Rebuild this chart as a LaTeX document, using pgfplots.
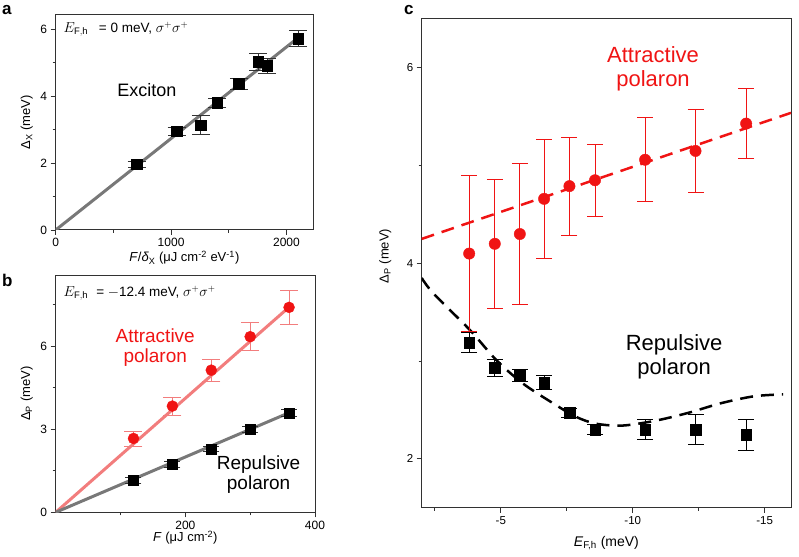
\documentclass[border=0pt]{standalone}
\usepackage{pgfplots}
\pgfplotsset{compat=1.18}
\usepackage{fontspec}
\setmainfont{Liberation Sans}
\definecolor{myred}{RGB}{240,20,20}
\definecolor{mypink}{RGB}{242,125,125}
\definecolor{mygray}{RGB}{120,120,120}
\definecolor{frame}{RGB}{50,50,50}
\pgfplotsset{
  panel/.style={
    scale only axis, anchor=south west,
    axis line style={frame, line width=1pt},
    tick pos=left, tick align=outside,
    major tick length=5pt, minor tick length=3pt,
    every tick/.style={frame, line width=0.8pt},
    /pgf/number format/assume math mode=true,
    /pgf/number format/1000 sep={},
  },
}
\newcommand{\fs}[1]{\fontsize{#1}{#1}\selectfont}
\begin{document}
\begin{tikzpicture}
\path[use as bounding box] (0,0) rectangle (799pt,556pt);
% ---------------- panel a
\begin{axis}[panel, at={(55.7pt,326pt)}, width=257.3pt, height=215pt,
  xmin=0, xmax=2230, ymin=0, ymax=6.42,
  xtick={0,1000,2000}, minor xtick={500,1500},
  ytick={0,2,4,6}, minor ytick={1,3,5},
  tick label style={font=\fs{12}},
  xlabel={\textit{F}/\textit{δ}\textsubscript{X} (μJ cm\textsuperscript{-2} eV\textsuperscript{-1})},
  ylabel={Δ\textsubscript{X} (meV)},
  xlabel style={font=\fs{13}, at={(axis description cs:0.5,-0.13)}, anchor=center},
  ylabel style={font=\fs{13}, at={(axis description cs:-0.112,0.5)}, anchor=center},
]
\addplot[mygray, line width=3pt] coordinates {(0,0) (2130,5.82)};
\addplot[only marks, mark=square*, mark size=5.3pt, black,
  error bars/.cd, y dir=both, y explicit,
  error bar style={black!80, line width=0.8pt},
  error mark options={rotate=90, mark size=9pt, line width=0.8pt, black!80}]
  table[x=x, y=y, y error=e] {
x y e
701 1.96 0.10
1047 2.95 0.12
1258 3.13 0.29
1399 3.80 0.13
1587 4.36 0.17
1754 5.02 0.24
1832 4.90 0.22
2100 5.72 0.24
};
\node[anchor=west, font=\fs{13.5}, inner sep=0pt] at (rel axis cs:0.03,0.935) {$E_{\mathrm{F,h}}$\hspace{0.8em}= 0 meV, $\sigma^{+}\sigma^{+}$};
\node[font=\fs{18}] at (axis cs:790,4.18) {Exciton};
\end{axis}
% ---------------- panel b
\begin{axis}[panel, at={(55.7pt,43.7pt)}, width=259.3pt, height=237.3pt,
  xmin=0, xmax=400, ymin=0, ymax=8.58,
  xtick={200,400}, minor xtick={100,300},
  ytick={0,3,6}, minor ytick={1.5,4.5,7.5},
  tick label style={font=\fs{12}},
  xlabel={\textit{F} (μJ cm\textsuperscript{-2})},
  ylabel={Δ\textsubscript{P} (meV)},
  xlabel style={font=\fs{13}, at={(axis description cs:0.5,-0.108)}, anchor=center},
  ylabel style={font=\fs{13}, at={(axis description cs:-0.112,0.5)}, anchor=center},
]
\addplot[mypink, line width=3pt] coordinates {(0,0) (362,7.46)};
\addplot[mygray, line width=3pt] coordinates {(0,0) (362,3.62)};
\addplot[only marks, mark=*, mark size=5.5pt, myred,
  error bars/.cd, y dir=both, y explicit,
  error bar style={mypink, line width=0.8pt},
  error mark options={rotate=90, mark size=9pt, line width=0.8pt, mypink}]
  table[x=x, y=y, y error=e] {
x y e
120 2.67 0.27
180 3.84 0.32
240 5.14 0.40
300 6.35 0.50
360 7.41 0.63
};
\addplot[only marks, mark=square*, mark size=5pt, black,
  error bars/.cd, y dir=both, y explicit,
  error bar style={black!80, line width=0.8pt},
  error mark options={rotate=90, mark size=8pt, line width=0.8pt, black!80}]
  table[x=x, y=y, y error=e] {
x y e
120 1.16 0.10
180 1.73 0.10
240 2.29 0.10
300 3.00 0.10
360 3.60 0.12
};
\node[anchor=west, font=\fs{13.5}, inner sep=0pt] at (rel axis cs:0.03,0.923) {$E_{\mathrm{F,h}}$\hspace{0.6em}= $-$12.4 meV, $\sigma^{+}\sigma^{+}$};
\node[font=\fs{19}, text=myred, align=center, inner sep=0pt] at (axis cs:153.5,5.94) {Attractive\\[1pt]polaron};
\node[font=\fs{19}, text=black, align=center, inner sep=0pt] at (axis cs:313,1.35) {Repulsive\\[1pt]polaron};
\end{axis}
% ---------------- panel c
\begin{axis}[panel, at={(421.7pt,48.3pt)}, width=369.3pt, height=488.7pt,
  x dir=reverse, xmin=-16, xmax=-2, ymin=1.5, ymax=6.5,
  xtick={-5,-10,-15}, minor xtick={-2.5,-7.5,-12.5},
  ytick={2,4,6}, minor ytick={3,5},
  tick label style={font=\fs{11.5}},
  xlabel={\textit{E}\textsubscript{F,h} (meV)},
  ylabel={Δ\textsubscript{P} (meV)},
  xlabel style={font=\fs{14}, at={(axis description cs:0.5,-0.072)}, anchor=center},
  ylabel style={font=\fs{13}, at={(axis description cs:-0.099,0.515)}, anchor=center},
]
\addplot[myred, line width=2.5pt, dash pattern=on 13pt off 8pt] coordinates {(-2,4.25) (-16,5.54)};
\addplot[black, line width=2.5pt, dash pattern=on 13pt off 8pt, smooth, tension=0.5] coordinates {
(-2,3.85) (-2.45,3.69) (-3.82,3.32) (-4.83,3.01) (-5.84,2.77) (-6.97,2.57) (-7.85,2.43) (-8.6,2.36) (-9.6,2.34) (-10.86,2.39) (-12.1,2.47) (-13.36,2.57) (-14.6,2.64) (-15.7,2.66)};
\addplot[only marks, mark=square*, mark size=5.3pt, black,
  error bars/.cd, y dir=both, y explicit,
  error bar style={black, line width=0.8pt},
  error mark options={rotate=90, mark size=8pt, line width=0.8pt, black}]
  table[x=x, y=y, y error=e] {
x y e
-3.80 3.19 0.10
-4.77 2.93 0.085
-5.72 2.85 0.06
-6.64 2.78 0.07
-7.60 2.47 0.05
-8.57 2.30 0.05
-10.47 2.30 0.10
-12.38 2.30 0.15
-14.30 2.245 0.157
};
\addplot[only marks, mark=*, mark size=5.7pt, myred,
  error bars/.cd, y dir=both, y explicit,
  error bar style={myred, line width=0.8pt},
  error mark options={rotate=90, mark size=8pt, line width=0.8pt, myred}]
  table[x=x, y=y, y error=e] {
x y e
-3.80 4.10 0.80
-4.77 4.20 0.66
-5.72 4.30 0.72
-6.64 4.66 0.61
-7.60 4.79 0.50
-8.57 4.85 0.37
-10.47 5.06 0.43
-12.38 5.15 0.42
-14.30 5.43 0.36
};
\node[font=\fs{22}, text=myred, align=center, inner sep=0pt] at (axis cs:-10.77,5.99) {Attractive\\[2pt]polaron};
\node[font=\fs{22}, text=black, align=center, inner sep=0pt] at (axis cs:-11.57,3.04) {Repulsive\\[2pt]polaron};
\end{axis}
% panel letters
\node[font=\fs{17}\bfseries, anchor=north west, inner sep=0pt] at (2pt,551pt) {a};
\node[font=\fs{17}\bfseries, anchor=north west, inner sep=0pt] at (2pt,282pt) {b};
\node[font=\fs{17}\bfseries, anchor=north west, inner sep=0pt] at (404pt,551pt) {c};
\end{tikzpicture}
\end{document}
